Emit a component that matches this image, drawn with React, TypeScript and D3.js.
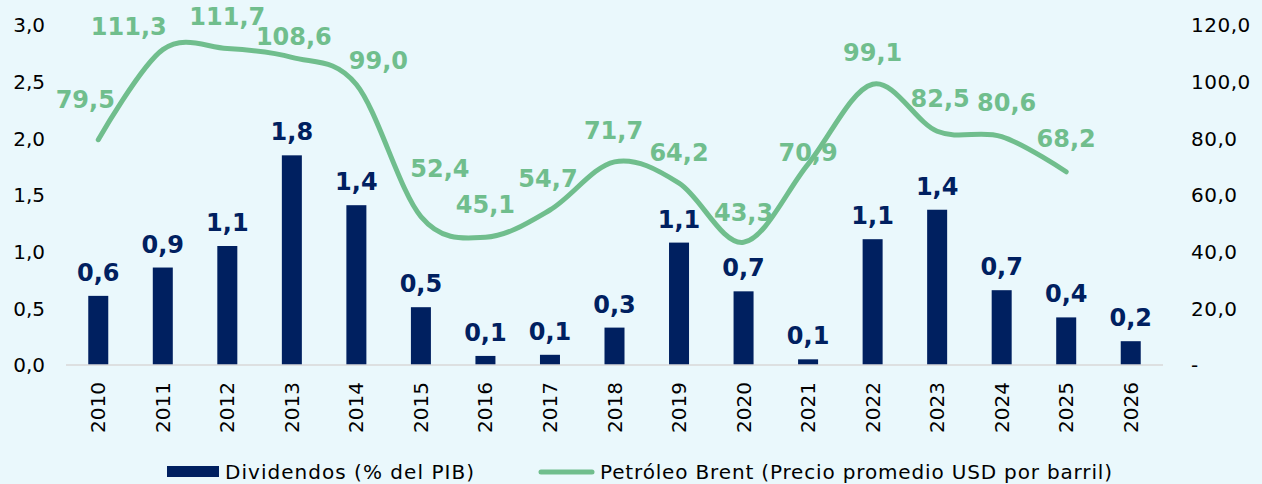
import React from "react";
import * as d3 from "d3";

const years = ["2010","2011","2012","2013","2014","2015","2016","2017","2018","2019","2020","2021","2022","2023","2024","2025","2026"];
const dividends = [0.61, 0.86, 1.05, 1.85, 1.41, 0.51, 0.08, 0.09, 0.33, 1.08, 0.65, 0.05, 1.11, 1.37, 0.66, 0.42, 0.21];
const dividendLabels = ["0,6","0,9","1,1","1,8","1,4","0,5","0,1","0,1","0,3","1,1","0,7","0,1","1,1","1,4","0,7","0,4","0,2"];
const brentYears = ["2010","2011","2012","2013","2014","2015","2016","2017","2018","2019","2020","2021","2022","2023","2024","2025"];
const brent = [79.5, 111.3, 111.7, 108.6, 99.0, 52.4, 45.1, 54.7, 71.7, 64.2, 43.3, 70.9, 99.1, 82.5, 80.6, 68.2];
const leftTicks = [0, 0.5, 1.0, 1.5, 2.0, 2.5, 3.0];
const rightTicks = [0, 20, 40, 60, 80, 100, 120];
const legendLabels = ["Dividendos (% del PIB)", "Petróleo Brent (Precio promedio USD por barril)"];

// label placement offsets (center of label relative to point), layout only
const brentLabelOffsets: [number, number][] = [
  [-13, -40], [-34, -23], [0, -32], [2, -21], [22, -24], [19, -48], [0, -33], [-2, -32],
  [-1, -31], [0, -31], [0, -30], [0, -12], [0, -32], [3, -33], [5, -34], [0, -33],
];

const W = 1262, H = 484;
const NAVY = "#002060";
const GREEN = "#70BE8D";
const BG = "#EAF8FC";
const FONT = "'DejaVu Sans', Verdana, sans-serif";

export default function App() {
  const x = d3.scaleBand<string>().domain(years).range([66, 1163]).paddingInner(0.69).paddingOuter(0.345);
  const yL = d3.scaleLinear().domain([0, 3]).range([365, 25]);
  const yR = d3.scaleLinear().domain([0, 120]).range([365, 25]);
  const cx = (yr: string) => (x(yr) as number) + x.bandwidth() / 2;
  const fmt = (v: number, d: number) => v.toFixed(d).replace(".", ",");

  const line = d3.line<number>()
    .x((_, i) => cx(brentYears[i]))
    .y((v) => yR(v))
    .curve(d3.curveCatmullRom.alpha(0));

  return (
    <svg width={W} height={H} style={{ position: "absolute", left: 0, top: 0, display: "block" }} fontFamily={FONT}>
      <rect x={0} y={0} width={W} height={H} fill={BG} />
      {/* left axis */}
      {leftTicks.map((t) => (
        <text key={"l" + t} x={45} y={yL(t)} dy="0.36em" textAnchor="end" fontSize={20} fill="#000">{fmt(t, 1)}</text>
      ))}
      {/* right axis */}
      {rightTicks.map((t) => (
        <text key={"r" + t} x={1191} y={yR(t)} dy="0.36em" textAnchor="start" fontSize={20} letterSpacing={0.5} fill="#000">{t === 0 ? "-" : fmt(t, 1)}</text>
      ))}
      {/* bars */}
      {years.map((yr, i) => (
        <rect key={"b" + yr} x={x(yr)} y={yL(dividends[i])} width={x.bandwidth()} height={yL(0) - yL(dividends[i])} fill={NAVY} />
      ))}
      {/* baseline */}
      <line x1={66} x2={1163} y1={yL(0)} y2={yL(0)} stroke="#D9D9D9" strokeWidth={1.5} />
      {/* bar labels */}
      {years.map((yr, i) => (
        <text key={"bl" + yr} x={cx(yr)} y={yL(dividends[i]) - 15} textAnchor="middle" fontSize={24} fontWeight="bold" fill={NAVY}>{dividendLabels[i]}</text>
      ))}
      {/* line */}
      <path d={line(brent) || ""} fill="none" stroke={GREEN} strokeWidth={5} strokeLinecap="round" strokeLinejoin="round" />
      {brent.map((v, i) => (
        <text key={"ll" + i} x={cx(brentYears[i]) + brentLabelOffsets[i][0]} y={yR(v) + brentLabelOffsets[i][1]} dy="0.36em" textAnchor="middle" fontSize={24} fontWeight="bold" fill={GREEN}>{fmt(v, 1)}</text>
      ))}
      {/* x labels */}
      {years.map((yr) => (
        <text key={"x" + yr} transform={`translate(${cx(yr) + 7},382) rotate(-90)`} textAnchor="end" fontSize={20} fill="#000">{yr}</text>
      ))}
      {/* legend */}
      <rect x={167} y={466} width={52} height={11} fill={NAVY} />
      <text x={225} y={479} fontSize={20} textLength={249} lengthAdjust="spacing" fill="#000">{legendLabels[0]}</text>
      <line x1={541} x2={592} y1={472} y2={472} stroke={GREEN} strokeWidth={5} strokeLinecap="round" />
      <text x={600} y={479} fontSize={20} textLength={512} lengthAdjust="spacing" fill="#000">{legendLabels[1]}</text>
    </svg>
  );
}
